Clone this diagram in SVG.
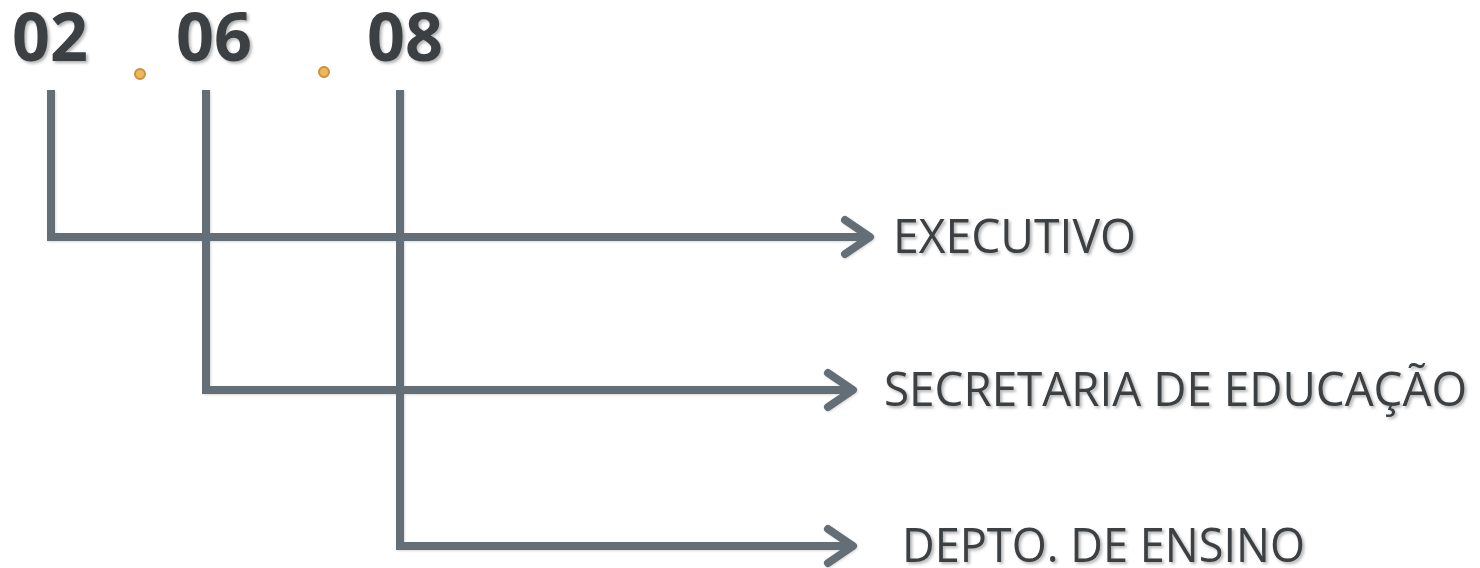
<svg xmlns="http://www.w3.org/2000/svg" width="1480" height="568" viewBox="0 0 1480 568">
<defs>
<filter id="sh" x="-10%" y="-20%" width="130%" height="150%">
<feDropShadow dx="2" dy="2" stdDeviation="1.5" flood-color="#000" flood-opacity="0.3"/>
</filter>
<filter id="lsh" x="-5%" y="-5%" width="110%" height="110%">
<feDropShadow dx="1" dy="1" stdDeviation="1" flood-color="#000" flood-opacity="0.15"/>
</filter>
</defs>
<style>
.num{font-family:"Open Sans","Liberation Sans",sans-serif;font-weight:bold;font-size:66px;fill:#3d4043;filter:url(#sh)}
.lbl{font-family:"Open Sans","Liberation Sans",sans-serif;font-size:48px;fill:#3d4043;filter:url(#sh)}
.ln{fill:none;stroke:#646e76;stroke-width:8;stroke-linejoin:miter}
.ah{fill:none;stroke:#646e76;stroke-width:8;stroke-linecap:round;stroke-linejoin:round}
.dot{fill:#f2b65a;stroke:#c9913d;stroke-width:2}
</style>
<g id="code-02"><text class="num" x="12" y="61" textLength="76" lengthAdjust="spacingAndGlyphs">02</text></g>
<g id="sep-1"><circle class="dot" cx="140" cy="74" r="5"/></g>
<g id="code-06"><text class="num" x="176" y="61" textLength="76" lengthAdjust="spacingAndGlyphs">06</text></g>
<g id="sep-2"><circle class="dot" cx="324" cy="72" r="5"/></g>
<g id="code-08"><text class="num" x="367" y="61" textLength="76" lengthAdjust="spacingAndGlyphs">08</text></g>
<g id="connectors" filter="url(#lsh)">
<path class="ln" d="M51,90 V237 H868"/>
<path class="ah" d="M845,220 L870,237 L845,254"/>
<path class="ln" d="M206,90 V390 H851"/>
<path class="ah" d="M828,373 L853,390 L828,407"/>
<path class="ln" d="M400,90 V546 H851"/>
<path class="ah" d="M828,529 L853,546 L828,563"/>
</g>
<g id="executivo"><text class="lbl" x="893" y="253" textLength="243" lengthAdjust="spacingAndGlyphs">EXECUTIVO</text></g>
<g id="secretaria"><text class="lbl" x="884" y="406" textLength="583" lengthAdjust="spacingAndGlyphs">SECRETARIA DE EDUCAÇÃO</text></g>
<g id="depto"><text class="lbl" x="902" y="562" textLength="403" lengthAdjust="spacingAndGlyphs">DEPTO. DE ENSINO</text></g>
</svg>
